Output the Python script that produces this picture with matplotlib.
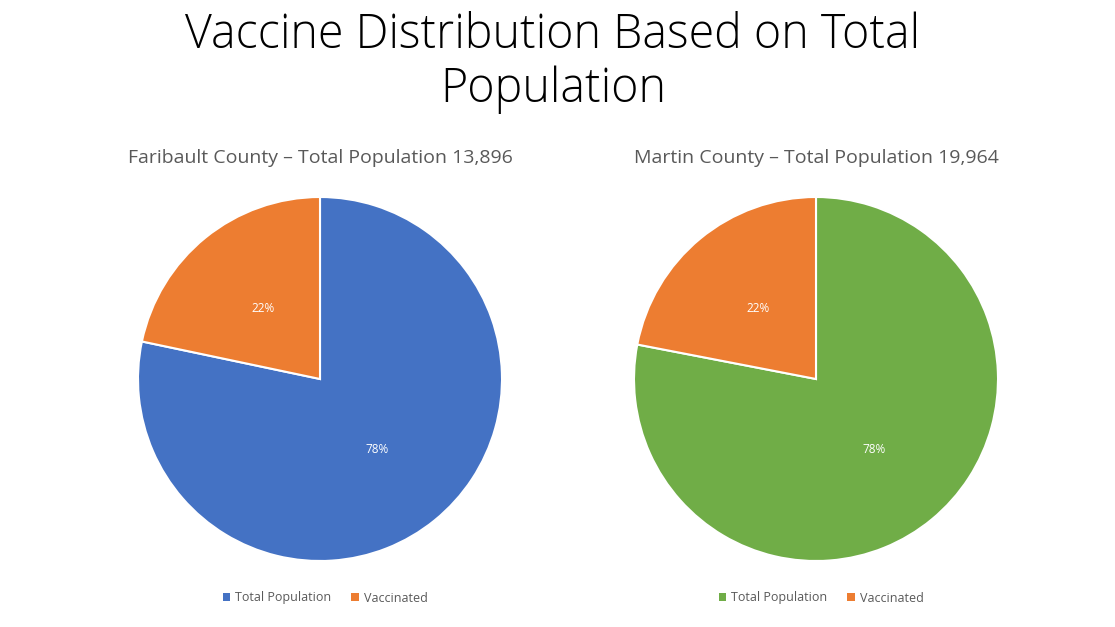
import matplotlib.pyplot as plt
from matplotlib.patches import Patch

labels = ['Total Population', 'Vaccinated']
faribault_vals = [13896, 3850]
martin_vals = [19964, 5620]
faribault_title = 'Faribault County – Total Population 13,896'
martin_title = 'Martin County – Total Population 19,964'

blue = '#4472C4'
orange = '#ED7D31'
green = '#70AD47'
grey = '#595959'

plt.rcParams['font.family'] = ['Open Sans', 'DejaVu Sans']

fig = plt.figure(figsize=(11.15, 6.27), dpi=100)
W, H = 1115, 627

# main title, two lines placed separately
fig.text(0.496, 1 - 36 / H, 'Vaccine Distribution Based on Total', ha='center', va='center',
         fontsize=33.5, fontweight='light', color='black')
fig.text(0.496, 1 - 90 / H, 'Population', ha='center', va='center',
         fontsize=33.5, fontweight='light', color='black')


def draw(cx, vals, colors, title):
    r = 182
    ax = fig.add_axes([(cx - r) / W, (H - 379 - r) / H, 2 * r / W, 2 * r / H])
    ax.pie(vals, colors=colors, startangle=90, counterclock=False, radius=1,
           autopct='%1.0f%%', pctdistance=0.5,
           wedgeprops=dict(edgecolor='white', linewidth=1.5),
           textprops=dict(color='white', fontsize=8.5))
    ax.set_xlim(-1, 1)
    ax.set_ylim(-1, 1)
    fig.text(cx / W, 1 - 158 / H, title, ha='center', va='center', fontsize=14, color=grey)
    handles = [Patch(facecolor=c, edgecolor='none') for c in colors]
    fig.legend(handles, labels, loc='center', bbox_to_anchor=((cx + 5) / W, 1 - 598 / H),
               ncol=2, frameon=False, fontsize=9, handlelength=0.6, handleheight=0.6,
               handletextpad=0.4, columnspacing=1.6, labelcolor=grey)


draw(320, faribault_vals, [blue, orange], faribault_title)
draw(816, martin_vals, [green, orange], martin_title)

fig.savefig('out.png', dpi=100)
